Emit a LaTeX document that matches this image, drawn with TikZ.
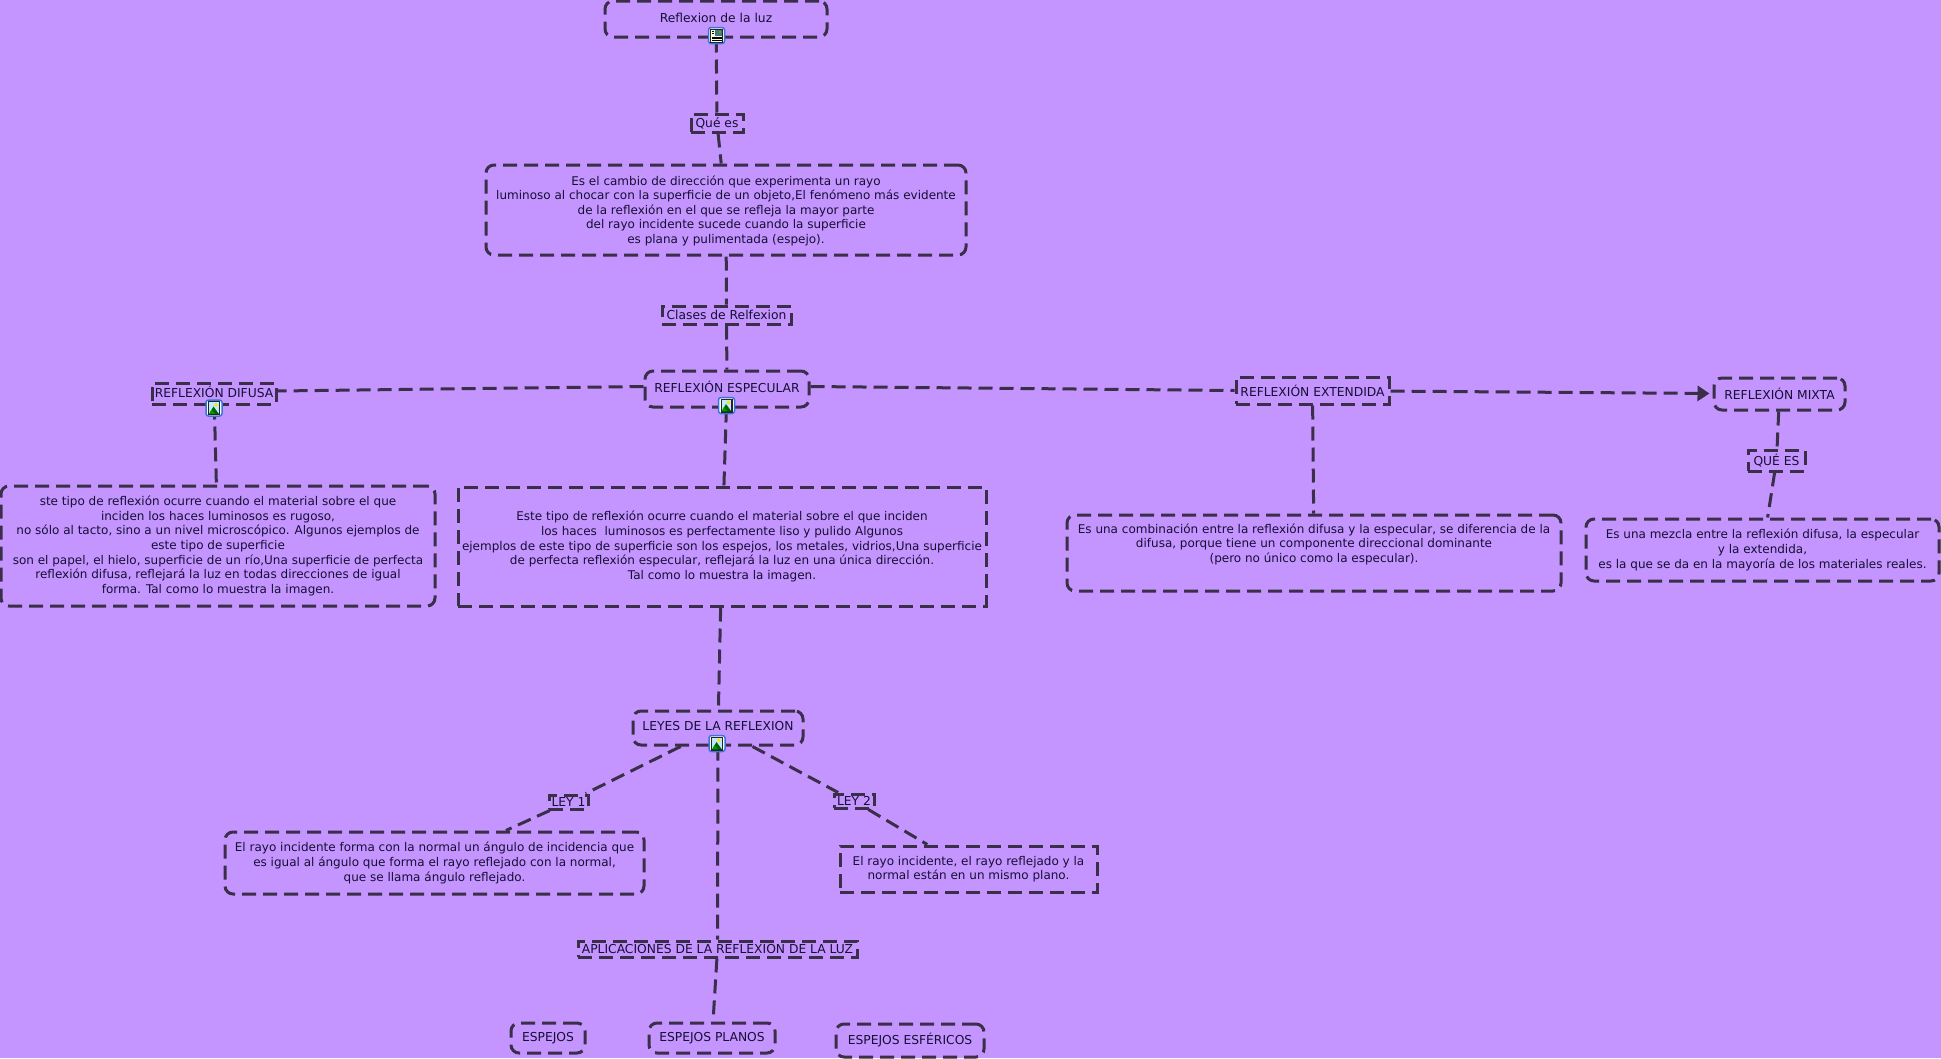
\documentclass[tikz,border=0pt]{standalone}
\usepackage{fontspec}
\setmainfont{DejaVu Sans}
\usetikzlibrary{arrows.meta}
\definecolor{bgv}{HTML}{C495FF}
\definecolor{ink}{HTML}{3A2E48}
\definecolor{txt}{HTML}{160E34}
\definecolor{iconblue}{HTML}{3B74D8}
\tikzset{
  dashline/.style={draw=ink,line width=3pt,dash pattern=on 14pt off 7pt},
  sharpbox/.style={dashline,inner sep=0pt,align=center,text=txt,font=\fontsize{12pt}{14.6pt}\selectfont},
  roundbox/.style={sharpbox,rounded corners=8pt},
  labelfont/.style={font=\fontsize{12.3pt}{14.6pt}\selectfont},
  link/.style={dashline},
  arrowlink/.style={dashline,-{Triangle[length=12pt,width=15pt]},shorten >=3pt},
  iconframe/.style={draw=iconblue,line width=1.5pt,fill=white,rounded corners=2.5pt,minimum size=16pt,inner sep=0pt},
  imgicon/.pic={
    \fill[black!85] (-6,-7) rectangle (6,7);
    \fill[white!75!cyan] (-4.8,-5.8) rectangle (4.8,5.8);
    \fill[yellow!85!orange] (1.8,-3.2) circle (1.9);
    \fill[green!40!black] (-4.8,5.8) -- (-0.5,-1.5) -- (4.8,5.8) -- cycle;
    \fill[green!60!black] (-4.8,5.8) -- (-2.5,1.5) -- (1,5.8) -- cycle;
  },
  docicon/.pic={
    \fill[black!85] (-6.5,-7) rectangle (6.5,7);
    \fill[yellow!15] (-5.5,-6) rectangle (5.5,6);
    \fill[teal!60!gray] (-1.5,-5.5) rectangle (5,0);
    \fill[orange!70!red] (2,-5) rectangle (4.5,-2.5);
    \fill[black] (-5,-5) rectangle (-2.5,-4);
    \fill[black] (-5,-2.5) rectangle (-2.5,-1.5);
    \fill[black] (-5,1) rectangle (5,1.8);
    \fill[black] (-5,2.8) rectangle (5,3.6);
    \fill[black] (-5,4.4) rectangle (5,5.2);
  }
}
\begin{document}
\begin{tikzpicture}[x=1pt,y=-1pt]
\useasboundingbox (0,0) rectangle (1941,1058);
\fill[bgv] (0,0) rectangle (1941,1058);

\node[roundbox,labelfont,minimum width=222pt,minimum height=36pt] (titulo) at (716,19) {\raisebox{2pt}{Reflexion de la luz}};
\node[sharpbox,labelfont,minimum width=52pt,minimum height=18pt] (quees) at (717,123) {Qué es};
\node[roundbox,minimum width=480pt,minimum height=90pt] (cambio) at (726,210) {\rule{0pt}{11pt}Es el cambio de dirección que experimenta un rayo\\luminoso al chocar con la superficie de un objeto,El fenómeno más evidente\\de la reflexión en el que se refleja la mayor parte\\del rayo incidente sucede cuando la superficie\\es plana y pulimentada (espejo).};
\node[sharpbox,labelfont,minimum width=129pt,minimum height=18pt] (clases) at (726.5,315) {Clases de Relfexion};
\node[roundbox,labelfont,minimum width=164pt,minimum height=36pt] (especular) at (727,389) {\raisebox{4pt}{REFLEXIÓN ESPECULAR}};
\node[sharpbox,labelfont,minimum width=124pt,minimum height=21pt] (difusa) at (214,393.5) {\raisebox{4pt}{REFLEXIÓN DIFUSA}};
\node[roundbox,minimum width=434pt,minimum height=120pt] (difusatxt) at (218,546) {ste tipo de reflexión ocurre cuando el material sobre el que\\inciden los haces luminosos es rugoso,\\no sólo al tacto, sino a un nivel microscópico. Algunos ejemplos de\\este tipo de superficie\\son el papel, el hielo, superficie de un río,Una superficie de perfecta\\reflexión difusa, reflejará la luz en todas direcciones de igual\\forma. Tal como lo muestra la imagen.};
\node[sharpbox,minimum width=528pt,minimum height=119pt] (espectxt) at (722,546.5) {Este tipo de reflexión ocurre cuando el material sobre el que inciden\\los haces\ \ luminosos es perfectamente liso y pulido Algunos\\ejemplos de este tipo de superficie son los espejos, los metales, vidrios,Una superficie\\de perfecta reflexión especular, reflejará la luz en una única dirección.\\Tal como lo muestra la imagen.};
\node[sharpbox,labelfont,minimum width=153pt,minimum height=27pt] (extendida) at (1312.5,390.5) {REFLEXIÓN EXTENDIDA};
\node[roundbox,labelfont,minimum width=131pt,minimum height=32pt] (mixta) at (1779.5,394) {REFLEXIÓN MIXTA};
\node[sharpbox,labelfont,minimum width=57pt,minimum height=21pt] (quemix) at (1776.5,460.5) {QUÉ ES};
\node[roundbox,minimum width=494pt,minimum height=76pt] (exttxt) at (1314,553) {\begin{tabular}{@{}c@{}}Es una combinación entre la reflexión difusa y la especular, se diferencia de la\\difusa, porque tiene un componente direccional dominante\\(pero no único como la especular).\\[16pt]\end{tabular}};
\node[roundbox,minimum width=353pt,minimum height=62pt] (mixtxt) at (1762.5,550) {Es una mezcla entre la reflexión difusa, la especular\\y la extendida,\\es la que se da en la mayoría de los materiales reales.};
\node[roundbox,labelfont,minimum width=170pt,minimum height=34pt] (leyes) at (718,728) {\raisebox{4pt}{LEYES DE LA REFLEXION}};
\node[sharpbox,labelfont,minimum width=39pt,minimum height=14pt] (ley1) at (568.5,802) {LEY 1};
\node[sharpbox,labelfont,minimum width=40pt,minimum height=14pt] (ley2) at (854,801) {LEY 2};
\node[roundbox,minimum width=419pt,minimum height=62pt] (ley1txt) at (434.5,863) {El rayo incidente forma con la normal un ángulo de incidencia que\\es igual al ángulo que forma el rayo reflejado con la normal,\\que se llama ángulo reflejado.};
\node[sharpbox,minimum width=257pt,minimum height=46pt] (ley2txt) at (968.5,869) {El rayo incidente, el rayo reflejado y la\\normal están en un mismo plano.};
\node[sharpbox,labelfont,minimum width=279pt,minimum height=16pt] (aplic) at (717.5,949) {APLICACIONES DE LA REFLEXION DE LA LUZ};
\node[roundbox,labelfont,minimum width=74pt,minimum height=30pt] (espejos) at (548,1038) {ESPEJOS};
\node[roundbox,labelfont,minimum width=126pt,minimum height=30pt] (planos) at (712,1038) {ESPEJOS PLANOS};
\node[roundbox,labelfont,minimum width=148pt,minimum height=33pt] (esfericos) at (910,1040.5) {ESPEJOS ESFÉRICOS};

\draw[link] (titulo) -- (quees);
\draw[link] (quees) -- (cambio);
\draw[link] (cambio) -- (clases);
\draw[link] (clases) -- (especular);
\draw[link] ([yshift=2.5pt]especular.west) -- ([yshift=2.5pt]difusa.east);
\draw[link] ([yshift=2.5pt]especular.east) -- (extendida.west);
\draw[arrowlink] (extendida) -- (mixta);
\draw[link] (difusa) -- (difusatxt);
\draw[link] (especular) -- (espectxt);
\draw[link] (extendida) -- (exttxt);
\draw[link] (mixta) -- (quemix);
\draw[link] (quemix) -- (mixtxt);
\draw[link] (espectxt) -- (leyes);
\draw[link] (leyes) -- (ley1);
\draw[link] (leyes) -- (ley2);
\draw[link] (ley1) -- (ley1txt);
\draw[link] (ley2) -- (ley2txt);
\draw[link] (leyes) -- (aplic);
\draw[link,shorten >=6pt] (aplic) -- (planos);

\node[iconframe] (icontitulo) at (716.5,35.5) {};
\node[iconframe] (icondifusa) at (214,408) {};
\node[iconframe] (iconespec) at (726.5,405.5) {};
\node[iconframe] (iconleyes) at (717,743.5) {};
\pic at (icontitulo) {docicon};
\pic at (icondifusa) {imgicon};
\pic at (iconespec) {imgicon};
\pic at (iconleyes) {imgicon};
\end{tikzpicture}
\end{document}
